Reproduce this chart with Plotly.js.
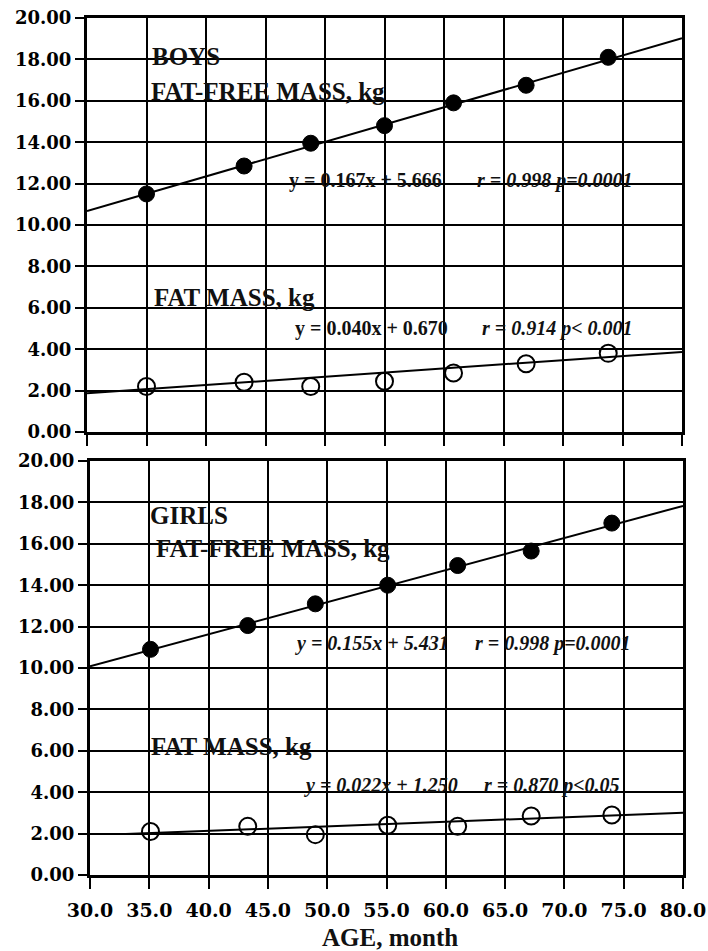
<!DOCTYPE html>
<html>
<head>
<meta charset="utf-8">
<script src="https://cdn.plot.ly/plotly-3.0.1.min.js"></script>
<style>
  html, body { margin: 0; padding: 0; background: #fff; }
  #chart { width: 708px; height: 951px; }
</style>
</head>
<body>
<div id="chart"></div>
<script>
// Body composition vs age, boys (top) and girls (bottom)
const ageBoys  = [35.0, 43.2, 48.8, 55.0, 60.8, 66.9, 73.8];
const boysFFM  = [11.5, 12.85, 13.95, 14.8, 15.9, 16.75, 18.1];
const boysFM   = [2.2, 2.4, 2.2, 2.45, 2.85, 3.3, 3.8];

const ageGirls = [35.1, 43.3, 49.0, 55.1, 61.0, 67.2, 74.0];
const girlsFFM = [10.9, 12.05, 13.1, 14.0, 14.95, 15.65, 17.0];
const girlsFM  = [2.1, 2.35, 1.95, 2.4, 2.35, 2.85, 2.9];

// Regression lines: boys FFM, boys FM, girls FFM, girls FM
const fitSlope     = [0.167, 0.040, 0.155, 0.022];
const fitIntercept = [5.666, 0.670, 5.431, 1.250];
const fitFrom      = [30, 30, 30, 33];
const fitTo        = [80, 80, 80, 80];

const eqText = [
  'y = 0.167x + 5.666',
  'y = 0.040x + 0.670',
  '<i>y = 0.155x + 5.431</i>',
  '<i>y = 0.022x + 1.250</i>'
];
const statText = [
  '<i>r = 0.998 p=0.0001</i>',
  '<i>r = 0.914 p&lt; 0.001</i>',
  '<i>r = 0.998 p=0.0001</i>',
  '<i>r = 0.870 p&lt;0.05</i>'
];

const xTicks = [30, 35, 40, 45, 50, 55, 60, 65, 70, 75, 80];
const yTicks = [0, 2, 4, 6, 8, 10, 12, 14, 16, 18, 20];

function fitLine(i, xa, ya) {
  const xs = [fitFrom[i], fitTo[i]];
  return {
    x: xs, y: xs.map(v => fitSlope[i] * v + fitIntercept[i]),
    xaxis: xa, yaxis: ya, mode: 'lines', hoverinfo: 'skip',
    line: {color: '#000', width: 2}
  };
}
function pts(xs, ys, filled, xa, ya) {
  return {
    x: xs, y: ys, xaxis: xa, yaxis: ya, mode: 'markers',
    marker: filled
      ? {symbol: 'circle', size: 16, color: '#000', line: {color: '#000', width: 1}}
      : {symbol: 'circle-open', size: 17, color: '#000', line: {color: '#000', width: 2}}
  };
}

const traces = [
  fitLine(0, 'x', 'y'), fitLine(1, 'x', 'y'),
  fitLine(2, 'x2', 'y2'), fitLine(3, 'x2', 'y2'),
  pts(ageBoys, boysFFM, true, 'x', 'y'),
  pts(ageBoys, boysFM, false, 'x', 'y'),
  pts(ageGirls, girlsFFM, true, 'x2', 'y2'),
  pts(ageGirls, girlsFM, false, 'x2', 'y2')
];

const tickFont = {family: 'DejaVu Serif', size: 18, color: '#000', weight: 700};
const labelFont = {family: 'Liberation Serif', size: 25, color: '#111', weight: 700};
const eqFont = {family: 'Liberation Serif', size: 20, color: '#111', weight: 700};

function xAxis(domain, anchor, labels) {
  return {
    domain: domain, anchor: anchor, range: [30, 80],
    tickvals: xTicks, tickformat: '.1f',
    showticklabels: labels, ticks: 'outside', ticklen: 11, tickwidth: 2, tickcolor: '#000',
    ticklabelstandoff: 5,
    showgrid: true, gridcolor: '#000', gridwidth: 2, zeroline: false,
    showline: true, linecolor: '#000', linewidth: 3, mirror: true,
    tickfont: {family: 'DejaVu Serif', size: 19, color: '#000', weight: 700}
  };
}
function yAxis(domain, anchor) {
  return {
    domain: domain, anchor: anchor, range: [0, 20],
    tickvals: yTicks, tickformat: '.2f',
    ticks: 'outside', ticklen: 9, tickwidth: 2, tickcolor: '#000',
    showgrid: true, gridcolor: '#000', gridwidth: 2, zeroline: false,
    showline: true, linecolor: '#000', linewidth: 3, mirror: true,
    tickfont: tickFont
  };
}

function note(text, x, y, xr, yr, font) {
  return {text: text, x: x, y: y, xref: xr, yref: yr, xanchor: 'left', yanchor: 'middle',
          showarrow: false, font: font};
}

const annotations = [
  note('BOYS', 35.3, 18.16, 'x', 'y', labelFont),
  note('FAT-FREE MASS, kg', 35.2, 16.43, 'x', 'y', labelFont),
  note(eqText[0], 46.8, 12.13, 'x', 'y', eqFont),
  note(statText[0], 62.6, 12.13, 'x', 'y', eqFont),
  note('FAT MASS, kg', 35.5, 6.52, 'x', 'y', labelFont),
  note(eqText[1], 47.3, 4.98, 'x', 'y', eqFont),
  note(statText[1], 63.0, 4.98, 'x', 'y', eqFont),

  note('GIRLS', 34.9, 17.39, 'x2', 'y2', labelFont),
  note('FAT-FREE MASS, kg', 35.4, 15.75, 'x2', 'y2', labelFont),
  note(eqText[2], 47.1, 11.2, 'x2', 'y2', eqFont),
  note(statText[2], 62.3, 11.2, 'x2', 'y2', eqFont),
  note('FAT MASS, kg', 35.0, 6.23, 'x2', 'y2', labelFont),
  note(eqText[3], 47.9, 4.3, 'x2', 'y2', eqFont),
  note(statText[3], 63.05, 4.3, 'x2', 'y2', eqFont),

  {text: 'AGE, month', x: 390 / 708, y: 1 - 937 / 951, xref: 'paper', yref: 'paper',
   xanchor: 'center', yanchor: 'middle', showarrow: false, font: labelFont}
];

const layout = {
  width: 708, height: 951,
  margin: {l: 0, r: 0, t: 0, b: 0},
  paper_bgcolor: '#fff', plot_bgcolor: '#fff',
  showlegend: false,
  xaxis:  xAxis([87 / 708, 682 / 708], 'y', false),
  yaxis:  yAxis([1 - 432 / 951, 1 - 18 / 951], 'x'),
  xaxis2: xAxis([90 / 708, 683 / 708], 'y2', true),
  yaxis2: yAxis([1 - 875 / 951, 1 - 461 / 951], 'x2'),
  annotations: annotations
};

Plotly.newPlot('chart', traces, layout, {staticPlot: true});
</script>
</body>
</html>
